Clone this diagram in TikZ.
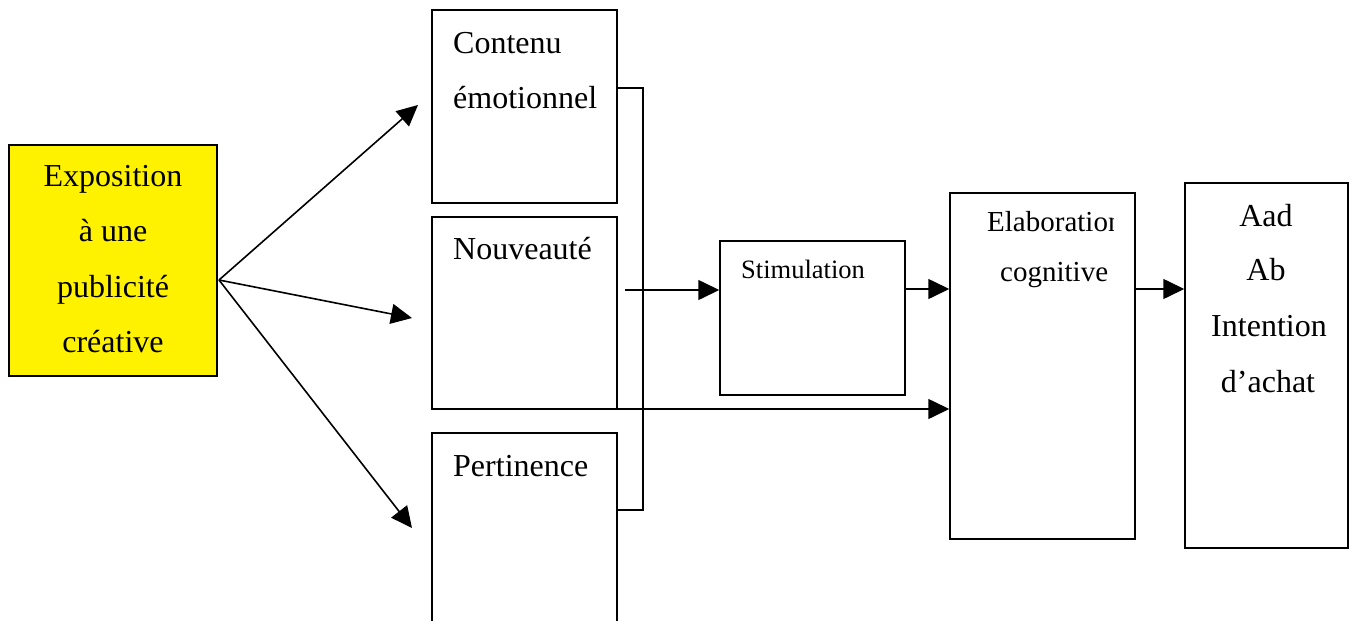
\documentclass[tikz,border=0pt]{standalone}
\usepackage{fontspec}
\setmainfont{Liberation Serif}
\usetikzlibrary{arrows.meta}
\tikzset{
  box/.style={draw, line width=1.5pt, inner sep=0pt, rectangle},
  txt/.style={inner sep=0pt, font=\fontsize{32}{40}\selectfont},
  arr/.style={line width=1.6pt, -{Triangle[length=21pt,width=20pt]}},
  ln/.style={line width=1.7pt}
}
\begin{document}
\begin{tikzpicture}[x=1pt,y=-1pt]
\useasboundingbox (0,0) rectangle (1358,621);
\clip (0,0) rectangle (1358,621);
% boxes
\node[box, fill=yellow, minimum width=208pt, minimum height=231pt] (expo) at (113,260.5) {};
\node[box, minimum width=185pt, minimum height=193pt] (cont) at (524.5,106.5) {};
\node[box, minimum width=185pt, minimum height=192pt] (nouv) at (524.5,313) {};
\node[box, minimum width=185pt, minimum height=217pt] (pert) at (524.5,541.5) {};
\node[box, minimum width=185pt, minimum height=154pt] (stim) at (812.5,318) {};
\node[box, minimum width=185pt, minimum height=346pt] (elab) at (1042.5,366) {};
\node[box, minimum width=163pt, minimum height=365pt] (aad) at (1266.5,365.5) {};
% texts
\node[txt, anchor=base] (e1) at (113,186) {Exposition};
\node[txt, anchor=base] (e2) at (113,241) {à une};
\node[txt, anchor=base] (e3) at (113,297) {publicité};
\node[txt, anchor=base] (e4) at (113,352) {créative};
\node[txt, anchor=base west] (tc1) at (453,53) {Contenu};
\node[txt, anchor=base west] (tc2) at (453,108) {émotionnel};
\node[txt, anchor=base west] (tn) at (453,259) {Nouveauté};
\node[txt, anchor=base west] (tp) at (453,476) {Pertinence};
\node[txt, anchor=base west, font=\fontsize{26.5}{32}\selectfont] (ts) at (741,278) {Stimulation};
\begin{scope}
\clip (950,193) rectangle (1113,539);
\node[txt, anchor=base west, font=\fontsize{29}{35}\selectfont] (tel1) at (987,231) {Elaboration};
\node[txt, anchor=base west, font=\fontsize{29}{35}\selectfont] (tel2) at (1000,281) {cognitive};
\end{scope}
\node[txt, anchor=base] (ta1) at (1266,226) {Aad};
\node[txt, anchor=base] (ta2) at (1266,280) {Ab};
\node[txt, anchor=base] (ta3) at (1269,336) {Intention};
\node[txt, anchor=base] (ta4) at (1268,392) {d’achat};
% fan
\coordinate (o) at (219,280);
\coordinate (t1) at (418,105);
\coordinate (t2) at (412,318);
\coordinate (t3) at (412,528);
\draw[arr] (o) -- (t1);
\draw[arr] (o) -- (t2);
\draw[arr] (o) -- (t3);
% bracket
\coordinate (bx) at (643,0);
\draw[ln] (cont.east |- 0,88) -- (bx |- 0,88) -- (bx |- 0,510) -- (pert.east |- 0,510);
% arrows to stimulation / elaboration
\coordinate (s0) at (625,290);
\draw[arr] (s0) -- (stim.west |- s0);
\draw[arr] (stim.east |- 0,289) -- (elab.west |- 0,289);
\coordinate (l0) at (605,409);
\draw[arr] (l0) -- (elab.west |- l0);
\draw[arr] (elab.east |- 0,289) -- (aad.west |- 0,289);
\end{tikzpicture}
\end{document}
